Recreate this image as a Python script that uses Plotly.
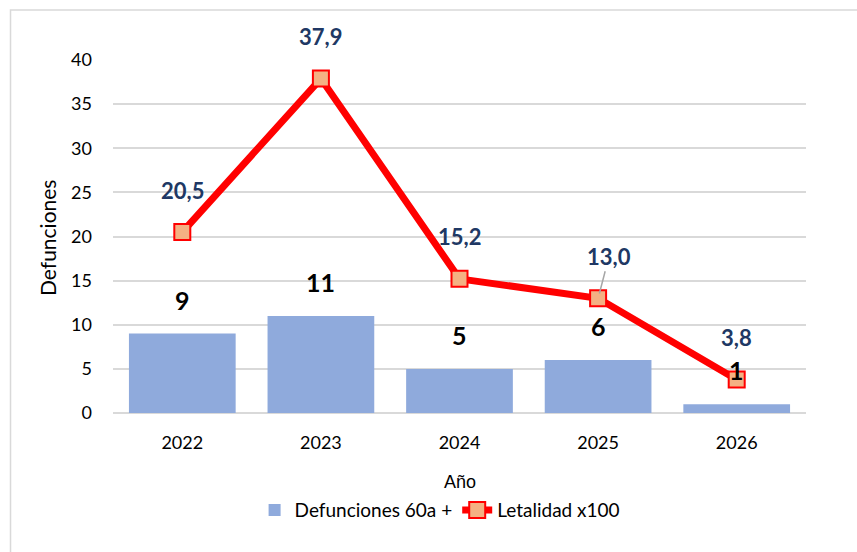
import plotly.graph_objects as go

years = ["2022", "2023", "2024", "2025", "2026"]
deaths = [9, 11, 5, 6, 1]
lethality = [20.5, 37.9, 15.2, 13.0, 3.8]
lethality_labels = ["20,5", "37,9", "15,2", "13,0", "3,8"]
y_ticks = [0, 5, 10, 15, 20, 25, 30, 35, 40]

FONT = "Lato, Open Sans, sans-serif"

fig = go.Figure()
fig.add_trace(go.Bar(
    x=years, y=deaths, name="Defunciones 60a +",
    marker=dict(color="#8FAADC", line=dict(width=0)),
))
fig.add_trace(go.Scatter(
    x=years, y=lethality, name="Letalidad x100", mode="lines+markers",
    line=dict(color="#FF0000", width=7),
    marker=dict(symbol="square", size=16, color="#F4B183",
                line=dict(color="#FF0000", width=2)),
))

for i, v in enumerate(deaths):
    fig.add_annotation(x=i, y=v, xref="x", yref="y", text=f"<b>{v}</b>",
                       showarrow=False, yshift=34,
                       font=dict(family=FONT, size=25, color="#000000"))
for i, (v, lab) in enumerate(zip(lethality, lethality_labels)):
    if lab == "13,0":
        fig.add_annotation(x=i, y=v, xref="x", yref="y", text=f"<b>{lab}</b>",
                           showarrow=True, arrowhead=0, arrowwidth=1.5,
                           arrowcolor="#A6A6A6", ax=11, ay=-42, standoff=5,
                           font=dict(family=FONT, size=22, color="#203864"))
    else:
        fig.add_annotation(x=i, y=v, xref="x", yref="y", text=f"<b>{lab}</b>",
                           showarrow=False, yshift=42,
                           font=dict(family=FONT, size=22, color="#203864"))
fig.add_annotation(x=0.5, y=-0.195, xref="paper", yref="paper", text="Año",
                   showarrow=False, yanchor="middle",
                   font=dict(family="Liberation Sans, Arial, sans-serif", size=18, color="#000000"))
fig.add_annotation(x=-0.0946, y=0.497, xref="paper", yref="paper", text="Defunciones",
                   showarrow=False, textangle=-90, xanchor="center", yanchor="middle",
                   font=dict(family=FONT, size=21, color="#000000"))

fig.update_layout(
    width=857, height=552,
    margin=dict(l=113, r=51, t=60, b=139),
    paper_bgcolor="white", plot_bgcolor="white",
    bargap=0.23,
    font=dict(family=FONT, size=18, color="#000000"),
    showlegend=True,
    legend=dict(orientation="h", x=0.472, xanchor="center", y=-0.275, yanchor="middle",
                font=dict(family=FONT, size=19, color="#000000"),
                itemwidth=30, tracegroupgap=0),
    xaxis=dict(type="category", range=[-0.5, 4.5], showgrid=False, showline=False,
               ticks="", ticklabelstandoff=17,
               tickfont=dict(family=FONT, size=18, color="#000000")),
    yaxis=dict(range=[0, 40], tickvals=y_ticks, showgrid=True, gridcolor="#D9D9D9",
               gridwidth=2, zeroline=True, zerolinecolor="#D9D9D9", zerolinewidth=2,
               showline=False, ticks="", ticklabelstandoff=20,
               tickfont=dict(family=FONT, size=18, color="#000000")),
    shapes=[dict(type="rect", xref="paper", yref="paper",
                 x0=-0.1479, x1=1.1, y0=-0.5, y1=1.1416,
                 line=dict(color="#D9D9D9", width=1.5), layer="below")],
)

fig.write_html("out.html")
